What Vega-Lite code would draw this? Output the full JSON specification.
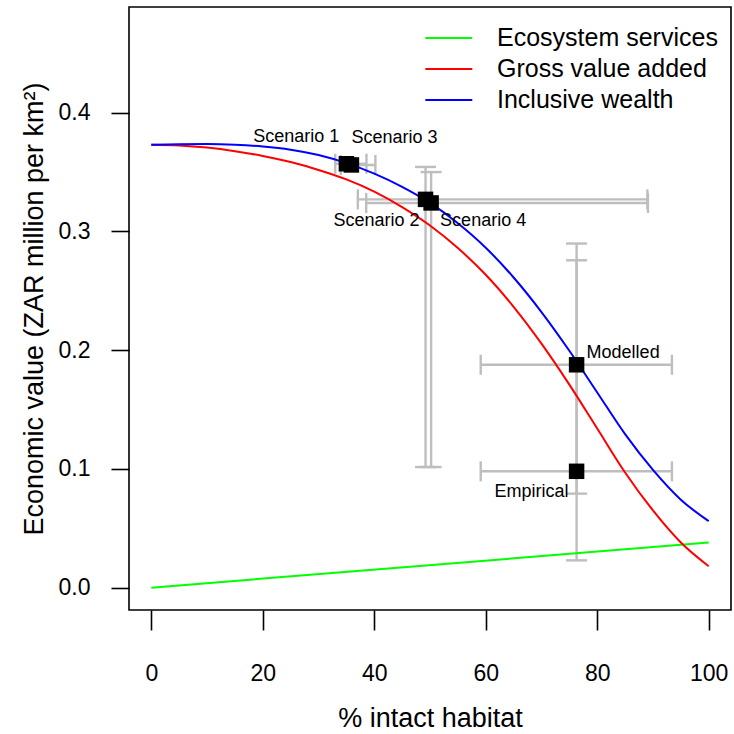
{
  "$schema": "https://vega.github.io/schema/vega-lite/v6.json",
  "width": 602,
  "height": 603,
  "autosize": {"type": "none"},
  "padding": {"left": 129, "top": 7, "right": 3, "bottom": 124},
  "background": "white",
  "config": {
    "view": {"stroke": "#000000", "strokeWidth": 1.6},
    "font": "Liberation Sans",
    "axis": {
      "grid": false, "domain": false, "tickColor": "#000000", "tickWidth": 1.6,
      "labelColor": "#000000", "titleColor": "#000000",
      "labelFont": "Liberation Sans", "titleFont": "Liberation Sans",
      "titleFontWeight": "normal", "labelFontSize": 23, "titleFontSize": 27
    },
    "text": {"font": "Liberation Sans", "fontSize": 18, "color": "#000000"}
  },
  "datasets": {
    "curves": [
      {"series": "Ecosystem services", "x": 0, "v": 0},
      {"series": "Ecosystem services", "x": 100, "v": 0.038},
      {"series": "Gross value added", "x": 0, "v": 0.3730},
      {"series": "Gross value added", "x": 5, "v": 0.3724},
      {"series": "Gross value added", "x": 10, "v": 0.3706},
      {"series": "Gross value added", "x": 15, "v": 0.3676},
      {"series": "Gross value added", "x": 20, "v": 0.3636},
      {"series": "Gross value added", "x": 25, "v": 0.3584},
      {"series": "Gross value added", "x": 30, "v": 0.3518},
      {"series": "Gross value added", "x": 35, "v": 0.3438},
      {"series": "Gross value added", "x": 40, "v": 0.3335},
      {"series": "Gross value added", "x": 45, "v": 0.3205},
      {"series": "Gross value added", "x": 50, "v": 0.3050},
      {"series": "Gross value added", "x": 55, "v": 0.2860},
      {"series": "Gross value added", "x": 60, "v": 0.2635},
      {"series": "Gross value added", "x": 65, "v": 0.2365},
      {"series": "Gross value added", "x": 70, "v": 0.2055},
      {"series": "Gross value added", "x": 75, "v": 0.1710},
      {"series": "Gross value added", "x": 80, "v": 0.1340},
      {"series": "Gross value added", "x": 85, "v": 0.0970},
      {"series": "Gross value added", "x": 90, "v": 0.0650},
      {"series": "Gross value added", "x": 95, "v": 0.0380},
      {"series": "Gross value added", "x": 100, "v": 0.0180},
      {"series": "Inclusive wealth", "x": 0, "v": 0.3730},
      {"series": "Inclusive wealth", "x": 5, "v": 0.3735},
      {"series": "Inclusive wealth", "x": 10, "v": 0.3736},
      {"series": "Inclusive wealth", "x": 15, "v": 0.3730},
      {"series": "Inclusive wealth", "x": 20, "v": 0.3715},
      {"series": "Inclusive wealth", "x": 25, "v": 0.3688},
      {"series": "Inclusive wealth", "x": 30, "v": 0.3643},
      {"series": "Inclusive wealth", "x": 35, "v": 0.3575},
      {"series": "Inclusive wealth", "x": 40, "v": 0.3487},
      {"series": "Inclusive wealth", "x": 45, "v": 0.3376},
      {"series": "Inclusive wealth", "x": 50, "v": 0.3240},
      {"series": "Inclusive wealth", "x": 55, "v": 0.3069},
      {"series": "Inclusive wealth", "x": 60, "v": 0.2863},
      {"series": "Inclusive wealth", "x": 65, "v": 0.2612},
      {"series": "Inclusive wealth", "x": 70, "v": 0.2321},
      {"series": "Inclusive wealth", "x": 75, "v": 0.1995},
      {"series": "Inclusive wealth", "x": 80, "v": 0.1644},
      {"series": "Inclusive wealth", "x": 85, "v": 0.1293},
      {"series": "Inclusive wealth", "x": 90, "v": 0.0992},
      {"series": "Inclusive wealth", "x": 95, "v": 0.0741},
      {"series": "Inclusive wealth", "x": 100, "v": 0.0560}
    ],
    "points": [
      {"name": "Scenario 1", "x": 35.0, "y": 0.357, "xlo": 33.0, "xhi": 38.6, "ylo": null, "yhi": null},
      {"name": "Scenario 3", "x": 35.9, "y": 0.356, "xlo": 34.0, "xhi": 40.2, "ylo": null, "yhi": null},
      {"name": "Scenario 2", "x": 49.2, "y": 0.327, "xlo": 37.05, "xhi": 89.0, "ylo": 0.1016, "yhi": 0.3543},
      {"name": "Scenario 4", "x": 50.2, "y": 0.324, "xlo": 38.55, "xhi": 89.1, "ylo": 0.1016, "yhi": 0.3500},
      {"name": "Modelled", "x": 76.3, "y": 0.1877, "xlo": 59.1, "xhi": 93.4, "ylo": 0.0792, "yhi": 0.2898},
      {"name": "Empirical", "x": 76.3, "y": 0.098, "xlo": 59.1, "xhi": 93.4, "ylo": 0.023, "yhi": 0.2757}
    ]
  },
  "layer": [
    {
      "data": {"name": "points"},
      "mark": {"type": "rule", "color": "#BEBEBE", "strokeWidth": 2.4},
      "encoding": {
        "x": {"field": "xlo", "type": "quantitative",
              "scale": {"domain": [-4, 104], "nice": false, "zero": false},
              "axis": {"values": [0, 20, 40, 60, 80, 100], "tickSize": 20, "labelPadding": 32, "titlePadding": 20, "labelFlush": false},
              "title": "% intact habitat"},
        "x2": {"field": "xhi"},
        "y": {"field": "y", "type": "quantitative",
              "scale": {"domain": [-0.0188, 0.489], "nice": false, "zero": false},
              "axis": {"values": [0, 0.1, 0.2, 0.3, 0.4], "format": ".1f", "tickSize": 18, "labelPadding": 21, "titlePadding": 10, "labelAngle": 0, "labelFlush": false},
              "title": "Economic value (ZAR million per km²)"}
      }
    },
    {
      "data": {"name": "points"},
      "transform": [{"filter": "isValid(datum.ylo)"}],
      "mark": {"type": "rule", "color": "#BEBEBE", "strokeWidth": 2.4},
      "encoding": {
        "x": {"field": "x", "type": "quantitative"},
        "y": {"field": "ylo", "type": "quantitative"},
        "y2": {"field": "yhi"}
      }
    },
    {
      "data": {"name": "points"},
      "transform": [{"fold": ["xlo", "xhi"], "as": ["end", "xv"]}],
      "mark": {"type": "tick", "orient": "vertical", "color": "#BEBEBE", "size": 20, "thickness": 2.4, "opacity": 1},
      "encoding": {
        "x": {"field": "xv", "type": "quantitative"},
        "y": {"field": "y", "type": "quantitative"}
      }
    },
    {
      "data": {"name": "points"},
      "transform": [{"fold": ["ylo", "yhi"], "as": ["end", "yv"]}, {"filter": "isValid(datum.yv)"}],
      "mark": {"type": "tick", "orient": "horizontal", "color": "#BEBEBE", "size": 21, "thickness": 2.4, "opacity": 1},
      "encoding": {
        "x": {"field": "x", "type": "quantitative"},
        "y": {"field": "yv", "type": "quantitative"}
      }
    },
    {
      "data": {"name": "curves"},
      "mark": {"type": "line", "strokeWidth": 2, "interpolate": "monotone"},
      "encoding": {
        "x": {"field": "x", "type": "quantitative"},
        "y": {"field": "v", "type": "quantitative"},
        "color": {
          "field": "series", "type": "nominal",
          "scale": {"domain": ["Ecosystem services", "Gross value added", "Inclusive wealth"], "range": ["#00FF00", "#FF0000", "#0000FF"]},
          "legend": {
            "title": null, "orient": "none", "legendX": 308, "legendY": 18,
            "symbolType": "M-2.1,0H1.9", "symbolSize": 552, "symbolStrokeWidth": 2, "symbolFillColor": "transparent",
            "labelFontSize": 25, "labelFont": "Liberation Sans", "labelColor": "#000000", "labelLimit": 0,
            "labelOffset": 34, "rowPadding": 5, "padding": 0
          }
        }
      }
    },
    {
      "data": {"name": "points"},
      "mark": {"type": "point", "shape": "square", "filled": true, "color": "#000000", "size": 240, "opacity": 1},
      "encoding": {
        "x": {"field": "x", "type": "quantitative"},
        "y": {"field": "y", "type": "quantitative"}
      }
    },
    {
      "data": {"name": "points"},
      "transform": [{"filter": "datum.name == 'Scenario 1'"}],
      "mark": {"type": "text", "align": "right", "baseline": "middle", "dx": -7, "dy": -27},
      "encoding": {"x": {"field": "x", "type": "quantitative"}, "y": {"field": "y", "type": "quantitative"}, "text": {"field": "name"}}
    },
    {
      "data": {"name": "points"},
      "transform": [{"filter": "datum.name == 'Scenario 3'"}],
      "mark": {"type": "text", "align": "left", "baseline": "middle", "dx": 0, "dy": -27},
      "encoding": {"x": {"field": "x", "type": "quantitative"}, "y": {"field": "y", "type": "quantitative"}, "text": {"field": "name"}}
    },
    {
      "data": {"name": "points"},
      "transform": [{"filter": "datum.name == 'Scenario 2'"}],
      "mark": {"type": "text", "align": "right", "baseline": "middle", "dx": -6, "dy": 22},
      "encoding": {"x": {"field": "x", "type": "quantitative"}, "y": {"field": "y", "type": "quantitative"}, "text": {"field": "name"}}
    },
    {
      "data": {"name": "points"},
      "transform": [{"filter": "datum.name == 'Scenario 4'"}],
      "mark": {"type": "text", "align": "left", "baseline": "middle", "dx": 9, "dy": 18},
      "encoding": {"x": {"field": "x", "type": "quantitative"}, "y": {"field": "y", "type": "quantitative"}, "text": {"field": "name"}}
    },
    {
      "data": {"name": "points"},
      "transform": [{"filter": "datum.name == 'Modelled'"}],
      "mark": {"type": "text", "align": "left", "baseline": "middle", "dx": 10, "dy": -12},
      "encoding": {"x": {"field": "x", "type": "quantitative"}, "y": {"field": "y", "type": "quantitative"}, "text": {"field": "name"}}
    },
    {
      "data": {"name": "points"},
      "transform": [{"filter": "datum.name == 'Empirical'"}],
      "mark": {"type": "text", "align": "right", "baseline": "middle", "dx": -8, "dy": 21},
      "encoding": {"x": {"field": "x", "type": "quantitative"}, "y": {"field": "y", "type": "quantitative"}, "text": {"field": "name"}}
    }
  ]
}
